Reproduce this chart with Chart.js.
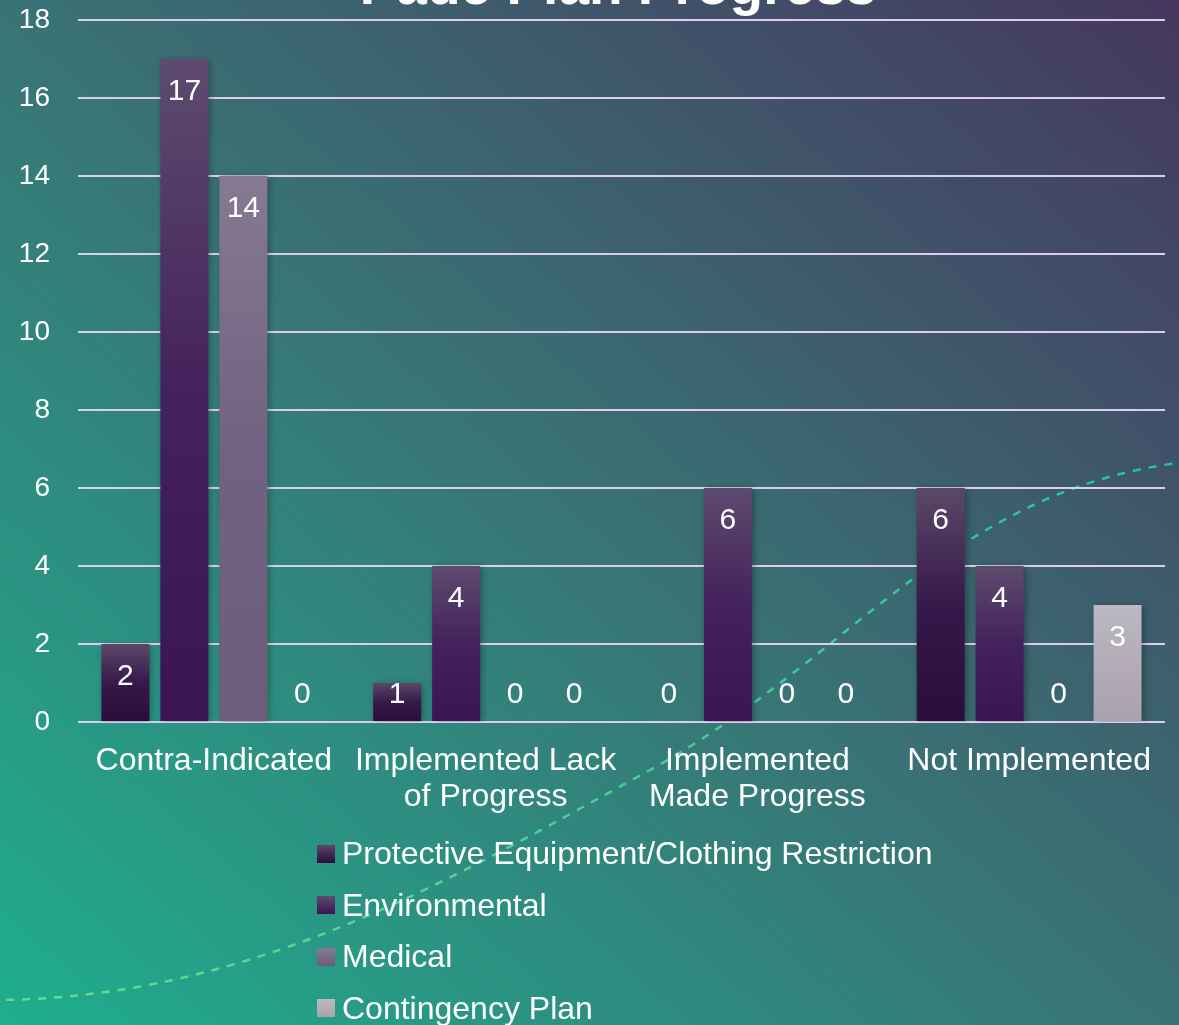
<!DOCTYPE html>
<html>
<head>
<meta charset="utf-8">
<script src="https://cdn.jsdelivr.net/npm/chart.js@4.4.1/dist/chart.umd.min.js"></script>
<style>
  html, body { margin: 0; padding: 0; }
  body {
    width: 1179px; height: 1025px; overflow: hidden; position: relative;
    background: linear-gradient(to top right, #1fae8e 0%, #397375 50%, #46375f 100%);
    font-family: "Liberation Sans", Arial, sans-serif;
  }
  #swoosh { position: absolute; left: 0; top: 0; }
  #title {
    position: absolute; left: 0; width: 1236px; top: -45px;
    text-align: center; color: #fff; font-weight: bold; font-size: 55px; line-height: 60px;
  }
  #chart { position: absolute; left: 0; top: -25px; }
  #legend { position: absolute; left: 317px; top: 828px; color: #fff; font-size: 32px; }
  #legend .item { height: 51.5px; display: flex; align-items: center; }
  #legend .box { width: 18px; height: 18px; margin-right: 7px; }
</style>
</head>
<body>
<svg id="swoosh" width="1179" height="1025">
  <defs>
    <linearGradient id="swooshCol" x1="0" y1="1" x2="1" y2="0">
      <stop offset="0" stop-color="#6bd98c"/>
      <stop offset="1" stop-color="#1fc4a2"/>
    </linearGradient>
  </defs>
  <path d="M -10 1000 C 250 1000 450 880 650 770 S 950 490 1185 462"
        fill="none" stroke="url(#swooshCol)" stroke-width="2.5" stroke-dasharray="8 8"/>
</svg>
<div id="title">Pade Plan Progress</div>
<canvas id="chart" width="1179" height="857"></canvas>
<div id="legend"></div>
<script>
const categories = [
  ['Contra-Indicated'],
  ['Implemented Lack', 'of Progress'],
  ['Implemented', 'Made Progress'],
  ['Not Implemented']
];
const seriesNames = ['Protective Equipment/Clothing Restriction', 'Environmental', 'Medical', 'Contingency Plan'];
const protectiveValues = [2, 1, 0, 6];
const environmentalValues = [17, 4, 6, 4];
const medicalValues = [14, 0, 0, 0];
const contingencyValues = [0, 0, 0, 3];
const yTicks = [0, 2, 4, 6, 8, 10, 12, 14, 16, 18];

// top colour, middle colour, bottom colour for each series
const fills = [
  ['#5b4868', '#36194a', '#2a0d3c'],
  ['#5e4b6f', '#44225c', '#3a1551'],
  ['#867a92', '#716281', '#6c5d7c'],
  ['#bcb9c3', '#b1acb6', '#a9a2ad']
];

function barFill(idx) {
  return function (ctx) {
    const chart = ctx.chart;
    const y = chart.scales.y;
    if (!y || typeof ctx.raw !== 'number') return fills[idx][1];
    const top = y.getPixelForValue(ctx.raw);
    const bottom = y.getPixelForValue(0);
    if (!Number.isFinite(top) || !Number.isFinite(bottom) || bottom - top < 1) return fills[idx][1];
    const g = chart.ctx.createLinearGradient(0, top, 0, bottom);
    g.addColorStop(0, fills[idx][0]);
    g.addColorStop(0.5, fills[idx][1]);
    g.addColorStop(1, fills[idx][2]);
    return g;
  };
}

const seriesValues = [protectiveValues, environmentalValues, medicalValues, contingencyValues];

const barShadow = {
  id: 'barShadow',
  beforeDatasetsDraw(chart) {
    const c = chart.ctx;
    c.save();
    c.shadowColor = 'rgba(0,0,0,0.35)';
    c.shadowBlur = 7;
    c.shadowOffsetX = 2;
    c.shadowOffsetY = 1;
  },
  afterDatasetsDraw(chart) {
    chart.ctx.restore();
  }
};

// value labels: inside the top of the bar, or just above the baseline for short bars
const valueLabels = {
  id: 'valueLabels',
  afterDatasetsDraw(chart) {
    const c = chart.ctx;
    const base = chart.scales.y.getPixelForValue(0);
    c.save();
    c.fillStyle = '#ffffff';
    c.font = '30px "Liberation Sans", Arial, sans-serif';
    c.textAlign = 'center';
    c.textBaseline = 'middle';
    chart.data.datasets.forEach((ds, i) => {
      chart.getDatasetMeta(i).data.forEach((bar, j) => {
        const y = Math.min(bar.y + 33, base - 27);
        c.fillText(String(ds.data[j]), bar.x, y);
      });
    });
    c.restore();
  }
};

new Chart(document.getElementById('chart'), {
  type: 'bar',
  data: {
    labels: categories,
    datasets: seriesNames.map((name, i) => ({
      label: name,
      data: seriesValues[i],
      backgroundColor: barFill(i),
      borderWidth: 0,
      categoryPercentage: 0.868,
      barPercentage: 0.814
    }))
  },
  options: {
    responsive: false,
    animation: false,
    layout: { padding: { top: 20, right: 14, left: 0, bottom: 0 } },
    plugins: {
      legend: { display: false },
      tooltip: { enabled: false }
    },
    scales: {
      x: {
        grid: { display: false, drawTicks: false },
        border: { display: false },
        ticks: {
          color: '#ffffff',
          padding: 21,
          font: { family: '"Liberation Sans", Arial, sans-serif', size: 32, lineHeight: 1.125 },
          maxRotation: 0,
          autoSkip: false
        },
        afterFit(s) { s.height = 110; }
      },
      y: {
        min: 0,
        max: 18,
        afterBuildTicks(s) { s.ticks = yTicks.map(v => ({ value: v })); },
        grid: { color: '#dacdee', lineWidth: 2, drawTicks: false },
        border: { display: false },
        ticks: {
          color: '#ffffff',
          padding: 28,
          font: { family: '"Liberation Sans", Arial, sans-serif', size: 28 }
        },
        afterFit(s) { s.width = 78; }
      }
    }
  },
  plugins: [barShadow, valueLabels]
});

// legend, one entry per row
const legend = document.getElementById('legend');
seriesNames.forEach((name, i) => {
  const item = document.createElement('div');
  item.className = 'item';
  const box = document.createElement('div');
  box.className = 'box';
  box.style.background = 'linear-gradient(' + fills[i][0] + ', ' + fills[i][2] + ')';
  const text = document.createElement('span');
  text.textContent = name;
  item.appendChild(box);
  item.appendChild(text);
  legend.appendChild(item);
});
</script>
</body>
</html>
